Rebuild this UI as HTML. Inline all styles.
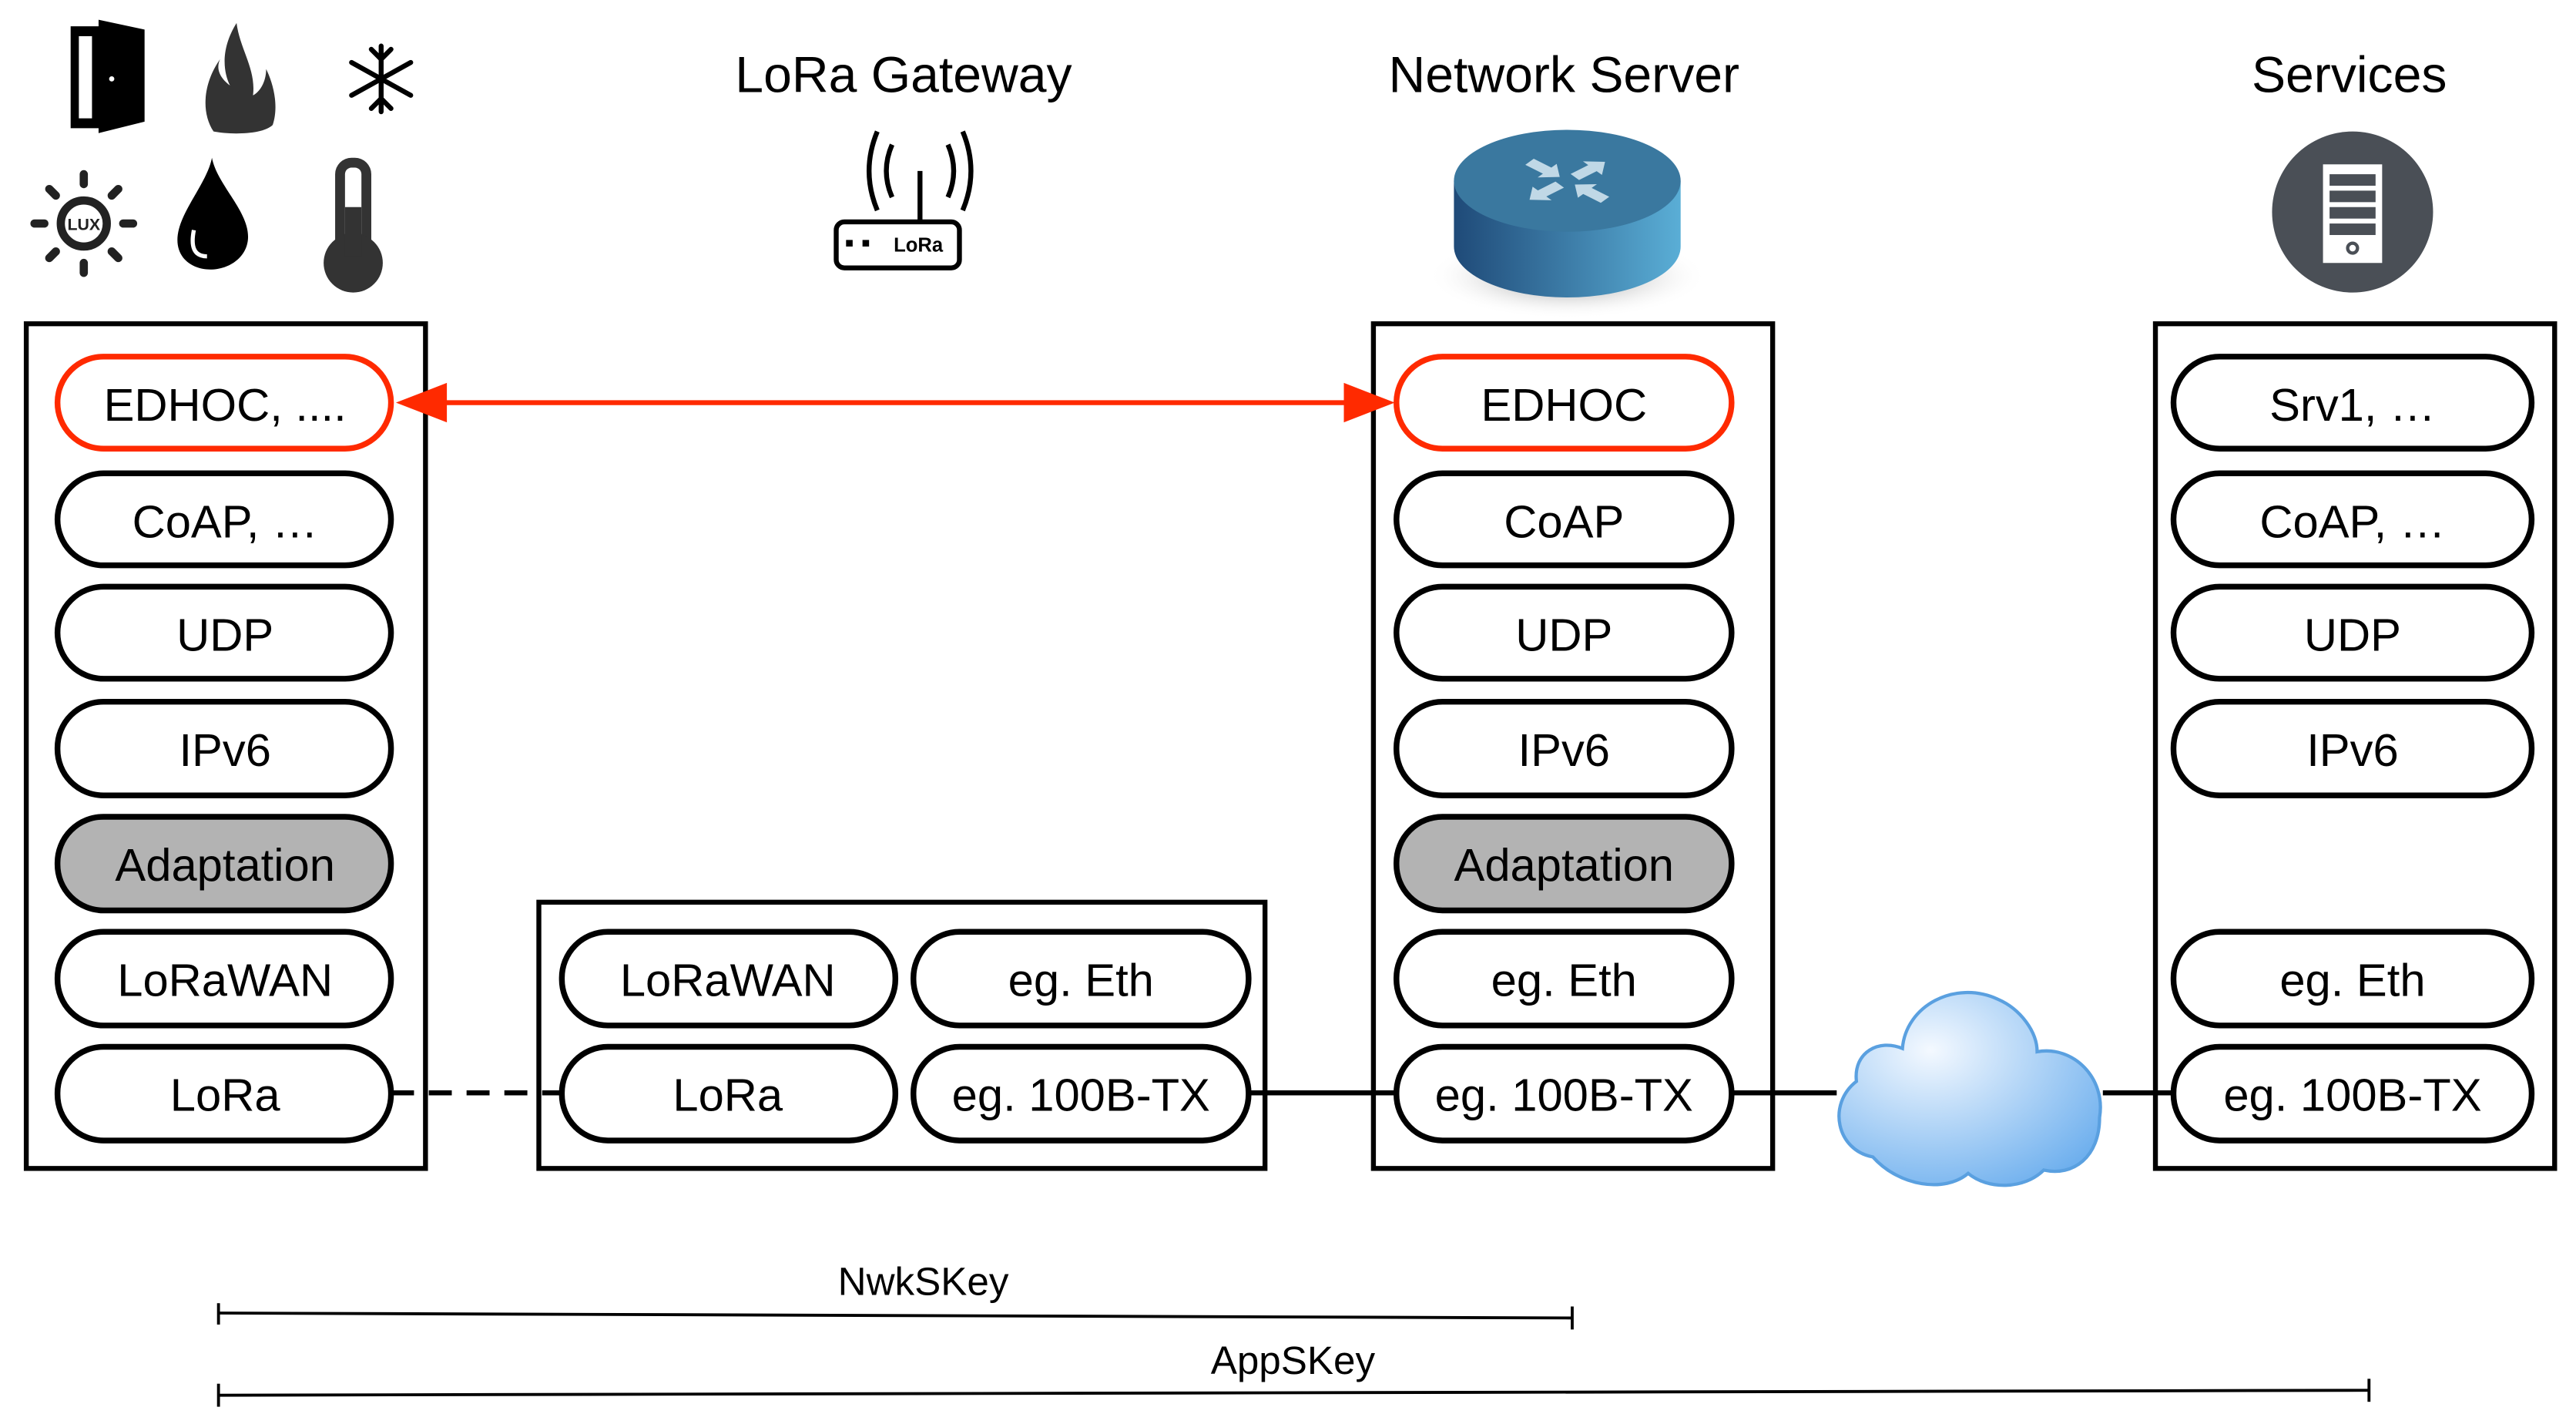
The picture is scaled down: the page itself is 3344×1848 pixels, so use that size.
<!DOCTYPE html>
<html><head><meta charset="utf-8"><style>
html,body{margin:0;padding:0;background:#fff;width:3344px;height:1848px;overflow:hidden}
svg{display:block}
text{font-family:"Liberation Sans",sans-serif}
</style></head><body>
<svg width="3344" height="1848" viewBox="0 0 1568 866.5" xmlns="http://www.w3.org/2000/svg">
<defs>
<linearGradient id="cyl" x1="0" x2="1"><stop offset="0" stop-color="#1f4a78"/><stop offset="1" stop-color="#5aaed6"/></linearGradient>
<radialGradient id="sh" cx="0.5" cy="0.5" r="0.5"><stop offset="0" stop-color="#777"/><stop offset="1" stop-color="#fff" stop-opacity="0"/></radialGradient>
<radialGradient id="cl" cx="0.35" cy="0.3" r="0.8"><stop offset="0" stop-color="#f4f9ff"/><stop offset="1" stop-color="#6fb0ee"/></radialGradient>
<polygon id="arr" points="0,-4 14,-4 14,-9 24,0 14,9 14,4 0,4" fill="#c0d8e6"/>
</defs>
<g font-size="31" text-anchor="middle" fill="#000">
<text x="550" y="56">LoRa Gateway</text>
<text x="952" y="56">Network Server</text>
<text x="1430" y="56">Services</text>
</g>
<polygon points="43,16 43,78 60,78 60,81 88,74 88,18 60,12 60,16" fill="#000"/>
<rect x="48" y="22" width="8" height="50" fill="#fff"/>
<circle cx="68" cy="48" r="1.6" fill="#fff"/>
<path d="M144,14 C134,30 136,44 140,52 C132,46 132,40 134,36 C124,50 122,68 130,80 C140,82 160,82 166,76 C170,64 166,50 162,42 C162,50 158,56 154,58 C156,42 146,30 144,14Z" fill="#333"/>
<g stroke="#000" stroke-width="3" stroke-linecap="round" fill="none">
<line x1="232" y1="28" x2="232" y2="68"/><line x1="214" y1="38" x2="250" y2="58"/><line x1="214" y1="58" x2="250" y2="38"/>
<path d="M226,30 L232,36 L238,30 M226,66 L232,60 L238,66"/>
</g>
<circle cx="51" cy="136" r="14" fill="none" stroke="#222" stroke-width="5"/>
<text x="51" y="140" font-size="10" font-weight="bold" text-anchor="middle" fill="#222">LUX</text>
<g stroke="#222" stroke-width="5" stroke-linecap="round">
<line x1="51" y1="106" x2="51" y2="112"/><line x1="51" y1="160" x2="51" y2="166"/><line x1="21" y1="136" x2="27" y2="136"/><line x1="75" y1="136" x2="81" y2="136"/>
<line x1="30" y1="115" x2="34" y2="119"/><line x1="68" y1="153" x2="72" y2="157"/><line x1="30" y1="157" x2="34" y2="153"/><line x1="68" y1="119" x2="72" y2="115"/>
</g>
<path d="M129,96 C126,112 108,130 108,146 C108,158 118,164 128,164 C140,164 151,156 151,144 C151,128 132,112 129,96Z" fill="#000"/>
<path d="M118,140 C116,150 118,156 126,156" stroke="#fff" stroke-width="2.5" fill="none"/>
<rect x="204" y="96" width="22" height="60" rx="10" fill="#333"/>
<rect x="210" y="102" width="10" height="44" rx="4" fill="#fff"/>
<circle cx="215" cy="160" r="18" fill="#333"/>
<rect x="210" y="126" width="10" height="30" fill="#333"/>
<g stroke="#000" stroke-width="3" fill="none">
<line x1="560" y1="104" x2="560" y2="135"/>
<path d="M543,88 Q536,104 543,120 M577,88 Q584,104 577,120"/>
<path d="M534,80 Q524,104 534,128 M586,80 Q596,104 586,128"/>
<rect x="509" y="135" width="75" height="28" rx="5"/>
</g>
<rect x="515" y="146" width="4" height="4" fill="#000"/><rect x="525" y="146" width="4" height="4" fill="#000"/>
<text x="559" y="153" font-size="12" font-weight="bold" text-anchor="middle">LoRa</text>
<ellipse cx="954" cy="168" rx="85" ry="26" fill="url(#sh)"/>
<path d="M885,110 L885,150 A69,31 0 0 0 1023,150 L1023,110 Z" fill="url(#cyl)"/>
<ellipse cx="954" cy="110" rx="69" ry="31" fill="#3a789f"/>
<g transform="translate(954,110) scale(1,0.6)">
<use href="#arr" transform="rotate(40) translate(-30,0)"/>
<use href="#arr" transform="rotate(220) translate(-30,0)"/>
<use href="#arr" transform="rotate(-40) translate(6,0)"/>
<use href="#arr" transform="rotate(140) translate(6,0)"/>
</g>
<circle cx="1432" cy="129" r="49" fill="#4a4f56"/>
<rect x="1414" y="100" width="36" height="60" fill="#fff"/>
<g fill="#4a4f56"><rect x="1418" y="106" width="28" height="7"/><rect x="1418" y="116" width="28" height="7"/><rect x="1418" y="126" width="28" height="7"/><rect x="1418" y="136" width="28" height="7"/></g>
<circle cx="1432" cy="151" r="3" fill="none" stroke="#4a4f56" stroke-width="2"/>
<g fill="none" stroke="#000" stroke-width="3">
<rect x="16" y="197" width="243" height="514"/>
<rect x="328" y="549" width="442" height="162"/>
<rect x="836" y="197" width="243" height="514"/>
<rect x="1312" y="197" width="243" height="514"/>
</g>
<line x1="238" y1="665" x2="342" y2="665" stroke="#000" stroke-width="3" stroke-dasharray="14,9"/>
<g stroke="#000" stroke-width="3">
<line x1="760" y1="665" x2="850" y2="665"/>
<line x1="1054" y1="665" x2="1118" y2="665"/>
<line x1="1280" y1="665" x2="1323" y2="665"/>
</g>
<line x1="262" y1="245" x2="828" y2="245" stroke="#ff2a00" stroke-width="3"/>
<polygon points="241,245 272,233 272,257" fill="#ff2a00"/>
<polygon points="849,245 818,233 818,257" fill="#ff2a00"/>
<path d="M1140,704 C1118,700 1112,672 1130,658 C1128,640 1144,632 1158,638 C1160,612 1190,596 1216,608 C1230,614 1240,628 1240,640 C1262,636 1282,656 1278,680 C1278,704 1262,716 1244,712 C1232,724 1210,724 1198,714 C1184,726 1156,722 1140,704Z" fill="url(#cl)" stroke="#5aa0e0" stroke-width="2"/>
<g stroke="#000" stroke-width="3.5" fill="#fff">
<rect x="35" y="217" width="203" height="56" rx="28" stroke="#ff2a00"/>
<rect x="35" y="288" width="203" height="56" rx="28"/>
<rect x="35" y="357" width="203" height="56" rx="28"/>
<rect x="35" y="427" width="203" height="57" rx="28"/>
<rect x="35" y="497" width="203" height="57" rx="28" fill="#b3b3b3"/>
<rect x="35" y="567" width="203" height="57" rx="28"/>
<rect x="35" y="637" width="203" height="57" rx="28"/>
<rect x="342" y="567" width="203" height="57" rx="28"/>
<rect x="342" y="637" width="203" height="57" rx="28"/>
<rect x="556" y="567" width="204" height="57" rx="28"/>
<rect x="556" y="637" width="204" height="57" rx="28"/>
<rect x="850" y="217" width="204" height="56" rx="28" stroke="#ff2a00"/>
<rect x="850" y="288" width="204" height="56" rx="28"/>
<rect x="850" y="357" width="204" height="56" rx="28"/>
<rect x="850" y="427" width="204" height="57" rx="28"/>
<rect x="850" y="497" width="204" height="57" rx="28" fill="#b3b3b3"/>
<rect x="850" y="567" width="204" height="57" rx="28"/>
<rect x="850" y="637" width="204" height="57" rx="28"/>
<rect x="1323" y="217" width="218" height="56" rx="28"/>
<rect x="1323" y="288" width="218" height="56" rx="28"/>
<rect x="1323" y="357" width="218" height="56" rx="28"/>
<rect x="1323" y="427" width="218" height="57" rx="28"/>
<rect x="1323" y="567" width="218" height="57" rx="28"/>
<rect x="1323" y="637" width="218" height="57" rx="28"/>
</g>
<g font-size="28" text-anchor="middle" fill="#000">
<text x="137" y="256">EDHOC, ....</text>
<text x="137" y="327">CoAP, …</text>
<text x="137" y="396">UDP</text>
<text x="137" y="466">IPv6</text>
<text x="137" y="536">Adaptation</text>
<text x="137" y="606">LoRaWAN</text>
<text x="137" y="676">LoRa</text>
<text x="443" y="606">LoRaWAN</text>
<text x="443" y="676">LoRa</text>
<text x="658" y="606">eg. Eth</text>
<text x="658" y="676">eg. 100B-TX</text>
<text x="952" y="256">EDHOC</text>
<text x="952" y="327">CoAP</text>
<text x="952" y="396">UDP</text>
<text x="952" y="466">IPv6</text>
<text x="952" y="536">Adaptation</text>
<text x="952" y="606">eg. Eth</text>
<text x="952" y="676">eg. 100B-TX</text>
<text x="1432" y="256">Srv1, …</text>
<text x="1432" y="327">CoAP, …</text>
<text x="1432" y="396">UDP</text>
<text x="1432" y="466">IPv6</text>
<text x="1432" y="606">eg. Eth</text>
<text x="1432" y="676">eg. 100B-TX</text>
</g>
<g stroke="#000" stroke-width="1.8">
<line x1="133" y1="799" x2="957" y2="802"/><line x1="133" y1="793" x2="133" y2="806"/><line x1="957" y1="795" x2="957" y2="809"/>
<line x1="133" y1="849" x2="1442" y2="846"/><line x1="133" y1="842" x2="133" y2="856"/><line x1="1442" y1="839" x2="1442" y2="853"/>
</g>
<g font-size="24" text-anchor="middle"><text x="562" y="788">NwkSKey</text><text x="787" y="836">AppSKey</text></g>
</svg>
</body></html>
